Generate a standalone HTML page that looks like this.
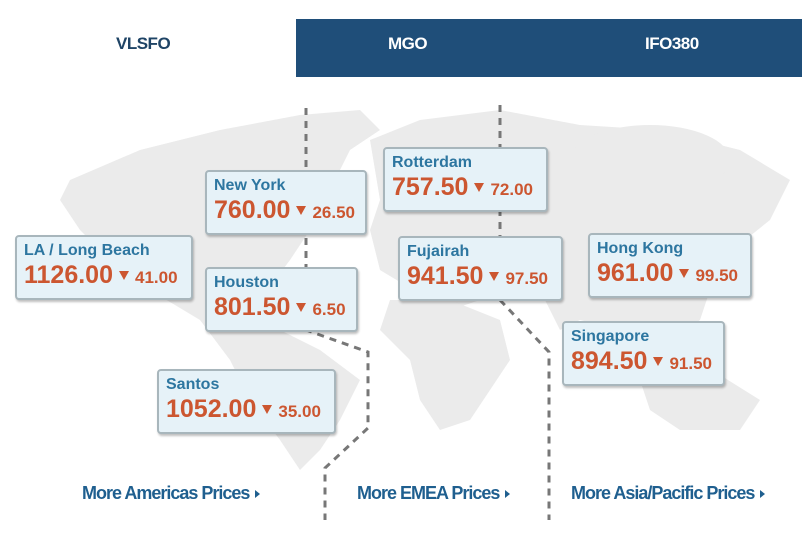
<!DOCTYPE html>
<html><head><meta charset="utf-8"><style>
body{margin:0;width:802px;height:534px;background:#fff;position:relative;overflow:hidden;font-family:"Liberation Sans",Arial,sans-serif}
.tab{position:absolute;top:19px;height:58px;line-height:50px;font-weight:bold;font-size:17px;letter-spacing:-0.5px}
.box{position:absolute;background:#e6f2f8;border:2px solid #a8b6bc;border-radius:4px;box-shadow:1px 2px 2px rgba(0,0,0,0.25);box-sizing:border-box;padding:5px 0 0 7px}
.n{color:#2d76a0;font-weight:bold;font-size:16px;line-height:18px}
.p{color:#cc5630;font-weight:bold;font-size:25px;line-height:30px;white-space:nowrap}
.p small{font-size:17px;margin-left:4px}
.tri{display:inline-block;width:0;height:0;border-left:5px solid transparent;border-right:5px solid transparent;border-top:9px solid #cc5630;margin:0 2px 0 6px;vertical-align:3px}
.lnk{position:absolute;top:483px;color:#1f5f8f;font-weight:bold;font-size:18px;letter-spacing:-1px}
.lnk:after{content:"";display:inline-block;border-top:4px solid transparent;border-bottom:4px solid transparent;border-left:5px solid #1f5f8f;margin-left:6px;vertical-align:1px}
</style></head><body>
<div class="tab" style="left:116px;color:#1f4466">VLSFO</div>
<div style="position:absolute;left:296px;top:19px;width:506px;height:58px;background:#1f4e79"></div>
<div class="tab" style="left:388px;color:#fff">MGO</div>
<div class="tab" style="left:645px;color:#fff">IFO380</div>
<svg style="position:absolute;left:0;top:0" width="802" height="534">
<g fill="#ebebeb">
<path d="M70 180 L140 150 L220 130 L300 115 L360 110 L380 130 L350 150 L330 190 L310 230 L290 260 L260 300 L280 330 L320 350 L360 380 L340 420 L320 450 L300 470 L280 440 L250 400 L230 360 L200 320 L150 290 L110 260 L80 230 L60 200 Z"/>
<path d="M370 140 L420 120 L500 110 L580 125 L660 130 L740 150 L790 180 L770 220 L720 260 L700 320 L660 350 L620 330 L580 320 L560 330 L545 300 L520 280 L480 300 L450 310 L430 300 L380 270 L370 230 L380 200 Z"/>
<path d="M390 300 L450 300 L500 320 L510 360 L490 390 L470 420 L440 430 L420 400 L410 360 L380 330 Z"/>
<path d="M640 380 L720 375 L760 400 L740 430 L680 430 L650 410 Z"/>
<ellipse cx="650" cy="160" rx="80" ry="35"/>
</g>
<g stroke="#777" stroke-width="3" stroke-dasharray="7,6" fill="none">
<path d="M306 108 L306 330 L368 352 L368 428 L325 468 L325 520"/>
<path d="M500 105 L500 300 L549 352 L549 520"/>
</g>
</svg>
<div class="box" style="left:205px;top:170px;width:162px;height:65px"><div class="n">New York</div><div class="p">760.00<span class="tri"></span><small>26.50</small></div></div>
<div class="box" style="left:15px;top:235px;width:178px;height:65px"><div class="n">LA / Long Beach</div><div class="p">1126.00<span class="tri"></span><small>41.00</small></div></div>
<div class="box" style="left:205px;top:267px;width:153px;height:65px"><div class="n">Houston</div><div class="p">801.50<span class="tri"></span><small>6.50</small></div></div>
<div class="box" style="left:157px;top:369px;width:179px;height:65px"><div class="n">Santos</div><div class="p">1052.00<span class="tri"></span><small>35.00</small></div></div>
<div class="box" style="left:383px;top:147px;width:165px;height:65px"><div class="n">Rotterdam</div><div class="p">757.50<span class="tri"></span><small>72.00</small></div></div>
<div class="box" style="left:398px;top:236px;width:165px;height:65px"><div class="n">Fujairah</div><div class="p">941.50<span class="tri"></span><small>97.50</small></div></div>
<div class="box" style="left:588px;top:233px;width:164px;height:65px"><div class="n">Hong Kong</div><div class="p">961.00<span class="tri"></span><small>99.50</small></div></div>
<div class="box" style="left:562px;top:321px;width:163px;height:65px"><div class="n">Singapore</div><div class="p">894.50<span class="tri"></span><small>91.50</small></div></div>
<div class="lnk" style="left:82px">More Americas Prices</div>
<div class="lnk" style="left:357px">More EMEA Prices</div>
<div class="lnk" style="left:571px">More Asia/Pacific Prices</div>
</body></html>
